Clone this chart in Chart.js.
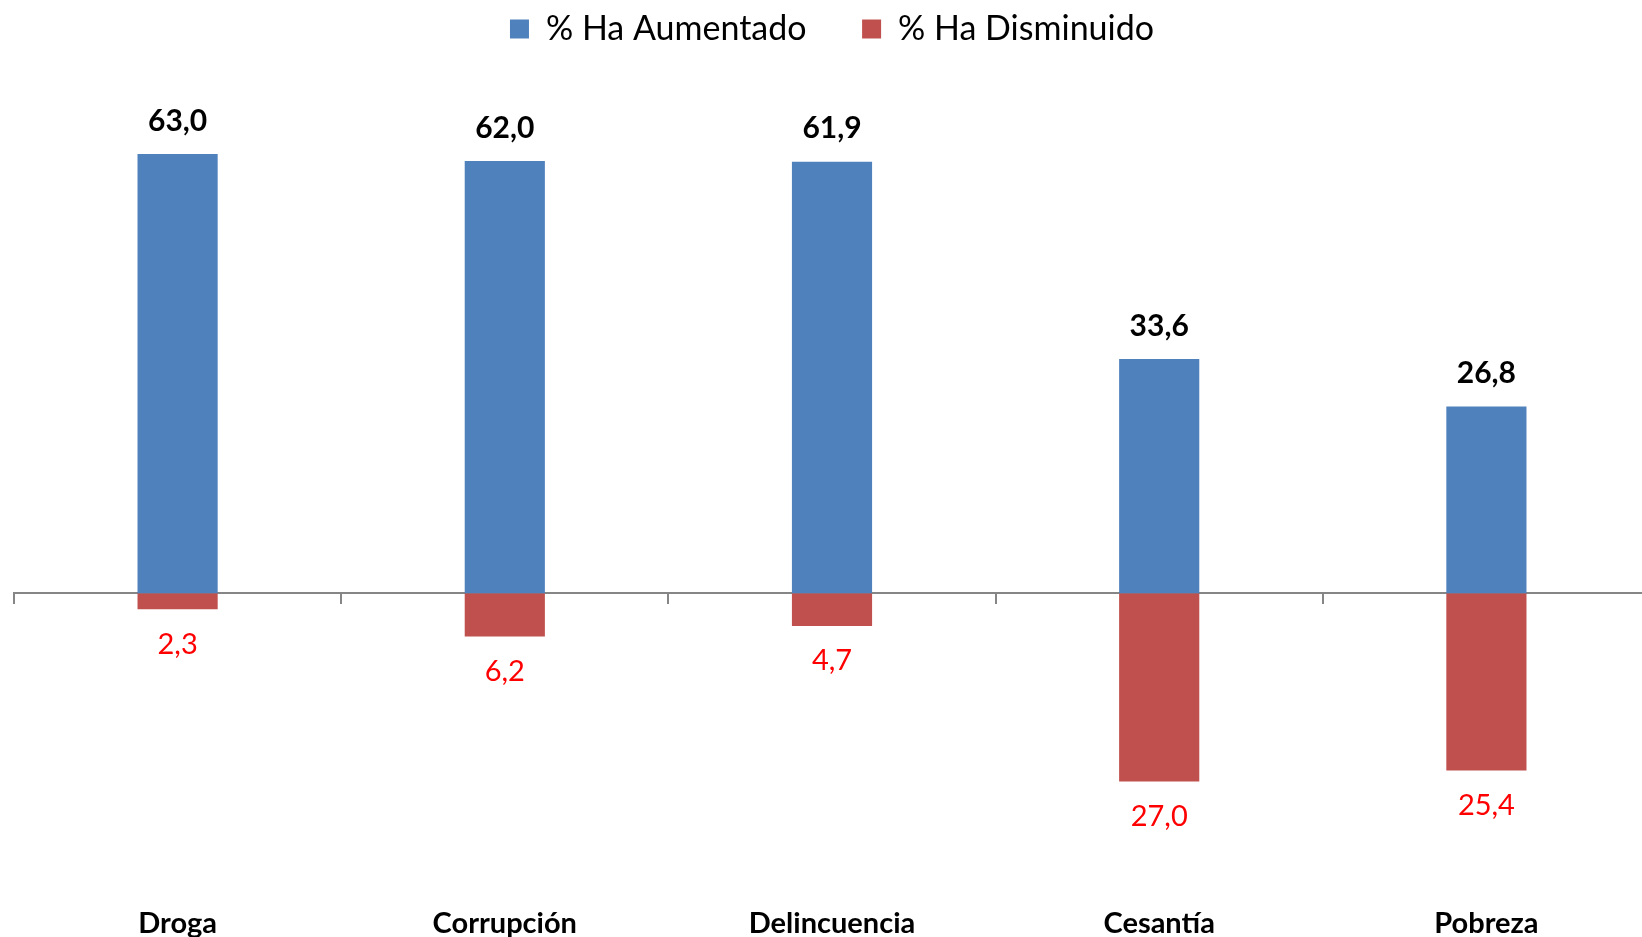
<!DOCTYPE html>
<html>
<head>
<meta charset="utf-8">
<script src="https://cdn.jsdelivr.net/npm/chart.js@4.4.4/dist/chart.umd.min.js"></script>
<style>
  html, body { margin: 0; padding: 0; background: #fff; overflow: hidden; }
  .chart { position: relative; width: 1650px; height: 937px; }
</style>
</head>
<body>
<div class="chart"><canvas></canvas></div>
<script>
// categories and series values
const categories = ['Droga', 'Corrupción', 'Delincuencia', 'Cesantía', 'Pobreza'];
const aumentado = [63.0, 62.0, 61.9, 33.6, 26.8];
const disminuido = [2.3, 6.2, 4.7, 27.0, 25.4];
const seriesNames = ['% Ha Aumentado', '% Ha Disminuido'];

const FONT = 'Lato, "Open Sans", sans-serif';

// value labels above / below the bars (no datalabels plugin offline)
const valueLabels = {
  id: 'valueLabels',
  afterDatasetsDraw(chart) {
    const ctx = chart.ctx;
    ctx.save();
    ctx.textAlign = 'center';
    ctx.textBaseline = 'middle';
    chart.data.datasets.forEach((ds, i) => {
      const meta = chart.getDatasetMeta(i);
      meta.data.forEach((bar, j) => {
        const v = ds.data[j];
        const txt = Math.abs(v).toFixed(1).replace('.', ',');
        if (v >= 0) {
          ctx.font = 'bold 30px ' + FONT;
          ctx.fillStyle = '#000';
          ctx.fillText(txt, bar.x, bar.y - 33);
        } else {
          ctx.font = '29px ' + FONT;
          ctx.fillStyle = '#ff0000';
          ctx.fillText(txt, bar.x, bar.y + 35);
        }
      });
    });
    ctx.restore();
  }
};

const chartEl = document.querySelector('.chart canvas');
const data = {
  labels: categories,
  datasets: [{
    label: seriesNames[0],
    data: aumentado,
    backgroundColor: '#4f81bd',
  }, {
    label: seriesNames[1],
    data: disminuido.map(v => -v),
    backgroundColor: '#c0504d',
  }]
};

const options = {
  responsive: true,
  maintainAspectRatio: false,
  animation: false,
  layout: { padding: { left: 14, right: 0, top: 0, bottom: -38 } },
  datasets: {
    bar: { barPercentage: 0.245, categoryPercentage: 1 }
  },
  plugins: {
    legend: {
      position: 'top',
      labels: {
        color: '#000',
        font: { family: FONT, size: 34 },
        boxWidth: 19,
        boxHeight: 19,
        padding: 12,
        generateLabels(chart) {
          const items = Chart.defaults.plugins.legend.labels.generateLabels(chart);
          items[0].text = items[0].text + '     ';
          return items;
        }
      }
    },
    tooltip: { enabled: false }
  },
  scales: {
    x: {
      stacked: true,
      offset: true,
      position: { y: 0 },
      grid: { display: true, offset: true, drawOnChartArea: false, drawTicks: true, tickLength: 10, color: '#868686', lineWidth: 2 },
      border: { display: true, color: '#868686', width: 2 },
      ticks: { display: false }
    },
    x2: {
      type: 'category',
      labels: categories,
      position: 'bottom',
      offset: true,
      grid: { display: false, drawTicks: false },
      border: { display: false },
      ticks: { color: '#000', font: { family: FONT, size: 29, weight: 'bold' }, padding: 34, maxRotation: 0 }
    },
    y: {
      stacked: true,
      display: false,
      min: -40,
      max: 77.05
    }
  }
};

new Chart(chartEl, { type: 'bar', data, options, plugins: [valueLabels] });
</script>
</body>
</html>
